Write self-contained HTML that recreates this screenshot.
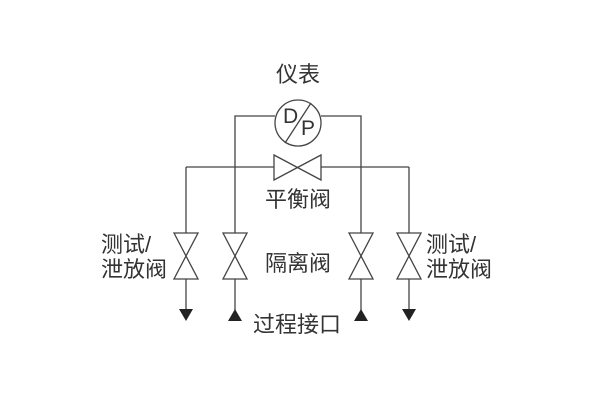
<!DOCTYPE html>
<html><head><meta charset="utf-8"><style>
body{margin:0;background:#fff}
svg text{font-family:"Liberation Sans","Noto Sans CJK SC",sans-serif;fill:#333}
</style></head><body>
<svg width="600" height="400" viewBox="0 0 600 400" xmlns="http://www.w3.org/2000/svg">
<g stroke="#444" stroke-width="1.3" fill="none">
<circle cx="298" cy="123" r="23" fill="#fff"/>
<line x1="285" y1="143" x2="311" y2="103"/>
<polyline points="275,116 235,116 235,233"/>
<polyline points="321,116 361,116 361,233"/>
<line x1="186" y1="167" x2="274" y2="167"/>
<line x1="321" y1="167" x2="409" y2="167"/>
<polygon points="274,155 321,180 321,155 274,180"/>
<line x1="186" y1="167" x2="186" y2="233"/>
<line x1="409" y1="167" x2="409" y2="233"/>
<polygon points="174,233 198,279 174,279 198,233"/>
<polygon points="223,233 247,279 223,279 247,233"/>
<polygon points="349,233 373,279 349,279 373,233"/>
<polygon points="397,233 421,279 397,279 421,233"/>
<line x1="186" y1="279" x2="186" y2="310"/>
<line x1="235" y1="279" x2="235" y2="310"/>
<line x1="361" y1="279" x2="361" y2="310"/>
<line x1="409" y1="279" x2="409" y2="310"/>
</g>
<g fill="#222">
<polygon points="179,309 193,309 186,321"/>
<polygon points="402,309 416,309 409,321"/>
<polygon points="228,321 242,321 235,309"/>
<polygon points="354,321 368,321 361,309"/>
</g>
<text x="283" y="123" font-size="21">D</text>
<text x="301" y="135" font-size="21">P</text>
<text x="298" y="82" font-size="22" text-anchor="middle">仪表</text>
<text x="298" y="207" font-size="22" text-anchor="middle">平衡阀</text>
<text x="298" y="271" font-size="22" text-anchor="middle">隔离阀</text>
<text x="297" y="332" font-size="22" text-anchor="middle">过程接口</text>
<text x="101" y="252" font-size="22">测试/</text>
<text x="101" y="277" font-size="22">泄放阀</text>
<text x="426" y="252" font-size="22">测试/</text>
<text x="426" y="277" font-size="22">泄放阀</text>
</svg>
</body></html>
